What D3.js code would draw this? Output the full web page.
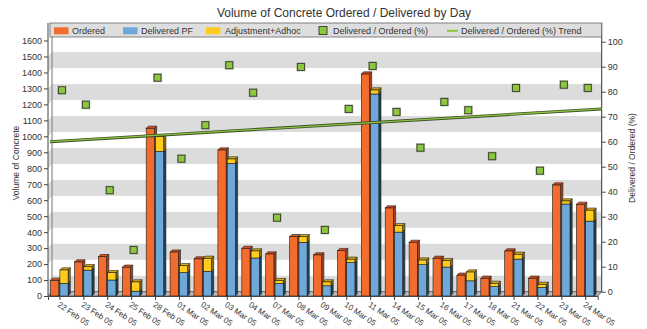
<!DOCTYPE html>
<html>
<head>
<meta charset="utf-8">
<script src="https://cdn.jsdelivr.net/npm/d3@7"></script>
<style>
  body { margin: 0; background: #fff; }
  svg text { font-family: "Liberation Sans", Arial, sans-serif; fill: #333; }
</style>
</head>
<body>
<svg id="chart" width="647" height="329"></svg>
<script>
// Daily concrete volumes
const days = ["22 Feb 05", "23 Feb 05", "24 Feb 05", "25 Feb 05", "28 Feb 05", "01 Mar 05",
  "02 Mar 05", "03 Mar 05", "04 Mar 05", "07 Mar 05", "08 Mar 05", "09 Mar 05", "10 Mar 05",
  "11 Mar 05", "14 Mar 05", "15 Mar 05", "16 Mar 05", "17 Mar 05", "18 Mar 05", "21 Mar 05",
  "22 Mar 05", "23 Mar 05", "24 Mar 05"];
const ordered     = [98, 213, 246, 180, 1050, 275, 232, 914, 298, 263, 371, 257, 284, 1390, 551, 336, 236, 130, 111, 282, 111, 695, 574];
const deliveredPF = [79, 162, 100, 30, 905, 147, 154, 830, 238, 78, 336, 64, 210, 1265, 400, 196, 181, 95, 59, 231, 54, 576, 469];
const adjustment  = [84, 21, 46, 58, 93, 43, 82, 28, 44, 18, 35, 24, 20, 25, 40, 29, 40, 55, 20, 30, 19, 19, 68];
const ratioPct    = [80.6, 74.8, 40.6, 16.7, 85.6, 53.2, 66.6, 90.6, 79.6, 29.6, 89.9, 24.7, 73.1, 90.3, 71.9, 57.6, 75.9, 72.6, 54.2, 81.5, 48.4, 82.8, 81.5];
// Trend line value at the left and right edges of the plot
const trendEnds = [60.0, 73.1];
const volumeTicks = d3.range(0, 1601, 100);
const pctTicks = d3.range(0, 101, 10);
const legendItems = ["Ordered", "Delivered PF", "Adjustment+Adhoc", "Delivered / Ordered (%)", "Delivered / Ordered (%) Trend"];

const svg = d3.select("#chart");
const FONT = "Liberation Sans, Arial, sans-serif";

// Plot geometry: front plane and back wall offset (3D depth)
const X0 = 48, X1 = 597.7, DX = 4, DY = 4.3;
const TOP = 23;
const x = d3.scaleBand().domain(days).range([X0, X1]);
const yF = d3.scaleLinear().domain([0, 1600]).range([296, 40.5]);
const yB = v => yF(v) - DY;
const yR = d3.scaleLinear().domain([0, 100]).range([296 - DY, 41.7]);

const col = {
  orange: { front: "#F26C2D", top: "#D9521F", side: "#A9431B" },
  blue:   { front: "#6DA8D8", top: "#4C7FA8", side: "#24445C" },
  yellow: { front: "#FFCB1F", top: "#E0B010", side: "#8E740E" },
  band: "#DCDCDC"
};

// Back wall bands
const wall = svg.append("g");
wall.append("rect").attr("x", X0 + DX).attr("y", yB(1600)).attr("width", X1 - X0)
  .attr("height", yB(0) - yB(1600)).attr("fill", "#fff");
d3.range(0, 1600, 200).forEach(v0 => {
  const v1 = v0 + 100;
  wall.append("rect").attr("x", X0 + DX).attr("y", yB(v1)).attr("width", X1 - X0)
    .attr("height", yB(v0) - yB(v1)).attr("fill", col.band);
  wall.append("polygon").attr("fill", col.band)
    .attr("points", [[X0, yF(v0)], [X0 + DX, yB(v0)], [X0 + DX, yB(v1)], [X0, yF(v1)]].join(" "));
});

// Floor
svg.append("polygon")
  .attr("points", [[X0, yF(0)], [X1, yF(0)], [X1 + DX, yB(0)], [X0 + DX, yB(0)]].join(" "))
  .attr("fill", "#BDBDBD").attr("stroke", "#444").attr("stroke-width", 0.8);

// Wall edges
svg.append("line").attr("x1", X0 + DX).attr("x2", X0 + DX).attr("y1", TOP).attr("y2", yB(0))
  .attr("stroke", "#777").attr("stroke-width", 1);
svg.append("line").attr("x1", X0).attr("x2", X0).attr("y1", TOP).attr("y2", yF(0))
  .attr("stroke", "#444").attr("stroke-width", 1);
svg.append("line").attr("x1", X1 + DX).attr("x2", X1 + DX).attr("y1", TOP).attr("y2", yB(0))
  .attr("stroke", "#333").attr("stroke-width", 1);

// 3D bar helper
const BDX = 2.2, BDY = 2.2;
function bar3d(g, x0, w, yTop, yBot, c, withTop) {
  g.append("polygon").attr("fill", c.side)
    .attr("points", [[x0 + w, yTop], [x0 + w + BDX, yTop - BDY], [x0 + w + BDX, yBot - BDY], [x0 + w, yBot]].join(" "))
    .attr("stroke", "#1a1a1a").attr("stroke-width", 0.6);
  if (withTop) {
    g.append("polygon").attr("fill", c.top)
      .attr("points", [[x0, yTop], [x0 + BDX, yTop - BDY], [x0 + w + BDX, yTop - BDY], [x0 + w, yTop]].join(" "))
      .attr("stroke", "#1a1a1a").attr("stroke-width", 0.6);
  }
  g.append("rect").attr("x", x0).attr("y", yTop).attr("width", w).attr("height", yBot - yTop)
    .attr("fill", c.front).attr("stroke", "#1a1a1a").attr("stroke-width", 0.6);
}

const bars = svg.append("g");
const BW = 8.2;
days.forEach((d, i) => {
  const s = x(d);
  bar3d(bars, s + 2.6, BW, yF(ordered[i]), yF(0), col.orange, true);
  bar3d(bars, s + 11.9, BW, yF(deliveredPF[i]), yF(0), col.blue, false);
  bar3d(bars, s + 11.9, BW, yF(deliveredPF[i] + adjustment[i]), yF(deliveredPF[i]), col.yellow, true);
});

// Trend line
const trendG = svg.append("g");
const tl = [[X0 + 2, yR(trendEnds[0])], [X1 + DX, yR(trendEnds[1])]];
trendG.append("line").attr("x1", tl[0][0]).attr("y1", tl[0][1]).attr("x2", tl[1][0]).attr("y2", tl[1][1])
  .attr("stroke", "#3E4C2C").attr("stroke-width", 3);
trendG.append("line").attr("x1", tl[0][0]).attr("y1", tl[0][1]).attr("x2", tl[1][0]).attr("y2", tl[1][1])
  .attr("stroke", "#8CC63F").attr("stroke-width", 1.3);

// Ratio markers
const mk = svg.append("g");
days.forEach((d, i) => {
  const cx = x(d) + x.bandwidth() / 2 + 2, cy = yR(ratioPct[i]);
  mk.append("rect").attr("x", cx - 4.5).attr("y", cy - 4.5).attr("width", 9).attr("height", 9)
    .attr("fill", "#9a9a9a").attr("opacity", 0.6);
  mk.append("rect").attr("x", cx - 3.5).attr("y", cy - 3.5).attr("width", 7).attr("height", 7)
    .attr("fill", "#8DC63F").attr("stroke", "#3B4A28").attr("stroke-width", 1);
});

// Axes
const left = svg.append("g").attr("transform", `translate(${X0},0)`)
  .call(d3.axisLeft(yF).tickValues(volumeTicks).tickFormat(d3.format("d")).tickSize(4).tickPadding(2));
left.select(".domain").remove();
left.selectAll("line").attr("stroke", "#444");
left.selectAll("text").style("font-size", "9px").style("font-family", FONT).attr("fill", "#333");

const right = svg.append("g").attr("transform", `translate(${X1 + DX},0)`)
  .call(d3.axisRight(yR).tickValues(pctTicks).tickFormat(d3.format("d")).tickSize(4).tickPadding(2));
right.select(".domain").remove();
right.selectAll("line").attr("stroke", "#444");
right.selectAll("text").style("font-size", "9px").style("font-family", FONT).attr("fill", "#333");

const bottom = svg.append("g").attr("transform", `translate(0,${yF(0)})`)
  .call(d3.axisBottom(x).tickSize(4).tickPadding(2));
bottom.select(".domain").attr("stroke", "#444");
bottom.selectAll("line").attr("stroke", "#444");
bottom.selectAll("text").style("font-size", "8px").style("font-family", FONT).attr("fill", "#555")
  .style("text-anchor", "start").attr("x", 0).attr("y", 0).attr("dy", 0)
  .attr("transform", "translate(-3,10) rotate(34)");

// Axis titles
svg.append("text").attr("transform", "translate(19,163) rotate(-90)").attr("text-anchor", "middle")
  .style("font-size", "8.5px").text("Volume of Concrete");
svg.append("text").attr("transform", "translate(635,158) rotate(-90)").attr("text-anchor", "middle")
  .style("font-size", "8.5px").text("Delivered / Ordered (%)");

// Title
svg.append("text").attr("x", 344).attr("y", 17).attr("text-anchor", "middle")
  .style("font-size", "12px").text("Volume of Concrete Ordered / Delivered by Day");

// Legend
const lg = svg.append("g");
lg.append("rect").attr("x", X0 + 2).attr("y", TOP).attr("width", X1 + DX - X0 - 2).attr("height", 14)
  .attr("fill", "#DEDEDE").attr("stroke", "#666").attr("stroke-width", 0.8);
const swX = [54, 123, 206, 319, 447];
const txX = [72, 141, 225, 333, 461];
[col.orange, col.blue, col.yellow].forEach((c, i) => {
  lg.append("rect").attr("x", swX[i]).attr("y", 27.3).attr("width", 14.5).attr("height", 7).attr("fill", c.front);
});
lg.append("rect").attr("x", swX[3]).attr("y", 26.5).attr("width", 8).attr("height", 8)
  .attr("fill", "#8DC63F").attr("stroke", "#3B4A28").attr("stroke-width", 1);
lg.append("line").attr("x1", swX[4]).attr("x2", swX[4] + 11).attr("y1", 30.8).attr("y2", 30.8)
  .attr("stroke", "#8CC63F").attr("stroke-width", 2);
legendItems.forEach((t, i) => {
  lg.append("text").attr("x", txX[i]).attr("y", 34).style("font-size", "9px").text(t);
});
</script>
</body>
</html>
